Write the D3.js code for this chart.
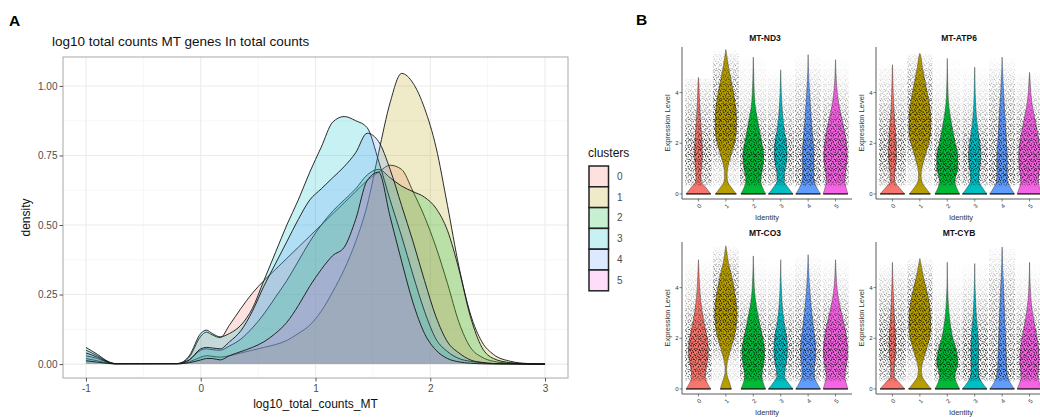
<!DOCTYPE html>
<html>
<head>
<meta charset="utf-8">
<script src="https://cdn.jsdelivr.net/npm/d3@7/dist/d3.min.js"></script>
<style>
  body { margin: 0; background: #fff; }
  svg { display: block; font-family: "Liberation Sans", Arial, Helvetica, sans-serif; }
</style>
</head>
<body>
<svg id="fig" width="1040" height="417"></svg>
<script>
// ---------- panel A: density curves ----------
const clusters = ["0", "1", "2", "3", "4", "5"];
const clusterColors = ["#F8766D", "#B79F00", "#00BA38", "#00BFC4", "#619CFF", "#F564E3"];

const densX = [-1, -0.9, -0.8, -0.75, -0.2, -0.1, 0, 0.05, 0.1, 0.17,
  0.25, 0.35, 0.45, 0.55, 0.65, 0.75, 0.85, 0.95,
  1.05, 1.15, 1.25, 1.35, 1.45, 1.55, 1.65, 1.75, 1.85, 1.95,
  2.05, 2.15, 2.25, 2.35, 2.45, 2.55, 2.7, 2.85, 3];
const dens0 = [0.05, 0.03, 0.007, 0.002, 0.002, 0.025, 0.10, 0.115, 0.105, 0.095,
  0.14, 0.20, 0.255, 0.30, 0.34, 0.38, 0.42, 0.46,
  0.50, 0.54, 0.58, 0.62, 0.66, 0.69, 0.715, 0.70, 0.62, 0.53,
  0.42, 0.29, 0.15, 0.06, 0.025, 0.01, 0.003, 0.001, 0];
const dens1 = [0.02, 0.012, 0.003, 0.001, 0.001, 0.008, 0.025, 0.03, 0.028, 0.025,
  0.03, 0.04, 0.05, 0.06, 0.07, 0.085, 0.11, 0.14,
  0.19, 0.26, 0.34, 0.44, 0.57, 0.76, 0.94, 1.045, 1.01, 0.92,
  0.78, 0.57, 0.35, 0.18, 0.08, 0.035, 0.01, 0.002, 0];
const dens2 = [0.03, 0.02, 0.005, 0.001, 0.002, 0.015, 0.05, 0.055, 0.052, 0.05,
  0.065, 0.09, 0.13, 0.18, 0.24, 0.30, 0.37, 0.44,
  0.50, 0.55, 0.59, 0.63, 0.68, 0.70, 0.67, 0.64, 0.62, 0.60,
  0.56, 0.48, 0.34, 0.17, 0.06, 0.02, 0.005, 0.001, 0];
const dens3 = [0.06, 0.035, 0.008, 0.002, 0.002, 0.03, 0.11, 0.122, 0.11, 0.098,
  0.11, 0.14, 0.20, 0.30, 0.40, 0.50, 0.59, 0.69,
  0.78, 0.87, 0.89, 0.875, 0.85, 0.73, 0.59, 0.46, 0.32, 0.19,
  0.09, 0.045, 0.02, 0.01, 0.005, 0.002, 0.001, 0, 0];
const dens4 = [0.04, 0.025, 0.006, 0.002, 0.002, 0.015, 0.055, 0.06, 0.058, 0.055,
  0.08, 0.12, 0.19, 0.28, 0.36, 0.44, 0.52, 0.59,
  0.63, 0.67, 0.71, 0.76, 0.83, 0.80, 0.70, 0.57, 0.44, 0.30,
  0.17, 0.08, 0.04, 0.015, 0.006, 0.002, 0.001, 0, 0];
const dens5 = [0.012, 0.007, 0.002, 0.001, 0.001, 0.005, 0.015, 0.02, 0.02, 0.015,
  0.03, 0.045, 0.06, 0.08, 0.11, 0.15, 0.21, 0.28,
  0.34, 0.39, 0.42, 0.52, 0.66, 0.69, 0.53, 0.37, 0.22, 0.11,
  0.05, 0.02, 0.008, 0.003, 0.001, 0, 0, 0, 0];
const densities = [dens0, dens1, dens2, dens3, dens4, dens5];

const xTicksA = [-1, 0, 1, 2, 3];
const xMinorA = [-0.5, 0.5, 1.5, 2.5];
const yTicksA = [0, 0.25, 0.5, 0.75, 1];
const yMinorA = [0.125, 0.375, 0.625, 0.875];

// ---------- panel B: violins (relative width at each level) ----------
const vlnLevels = [0, 0.25, 0.5, 0.75, 1, 1.5, 2, 2.5, 3, 3.5, 4, 4.5, 5, 5.5];
const genes = ["MT-ND3", "MT-ATP6", "MT-CO3", "MT-CYB"];

const nd3Width = [
  [1.0, 0.6, 0.22, 0.2, 0.24, 0.32, 0.3, 0.22, 0.16, 0.1, 0.06, 0.02, 0, 0],
  [0.85, 0.45, 0.14, 0.1, 0.14, 0.4, 0.7, 0.85, 0.86, 0.78, 0.62, 0.42, 0.22, 0.06],
  [1.0, 0.75, 0.6, 0.65, 0.75, 0.85, 0.7, 0.5, 0.32, 0.15, 0.08, 0.04, 0.02, 0],
  [1.0, 0.6, 0.3, 0.3, 0.38, 0.52, 0.48, 0.3, 0.18, 0.1, 0.05, 0.02, 0, 0],
  [1.0, 0.7, 0.5, 0.45, 0.46, 0.48, 0.42, 0.33, 0.25, 0.18, 0.12, 0.06, 0.02, 0],
  [1.0, 0.85, 0.75, 0.78, 0.85, 0.95, 0.88, 0.72, 0.5, 0.28, 0.14, 0.06, 0.02, 0]];
const nd3Top = [4.6, 5.7, 5.4, 4.9, 5.5, 5.3];

const atp6Width = [
  [1.0, 0.55, 0.18, 0.18, 0.24, 0.32, 0.3, 0.24, 0.17, 0.1, 0.06, 0.03, 0.01, 0],
  [0.85, 0.45, 0.15, 0.1, 0.16, 0.42, 0.72, 0.88, 0.88, 0.78, 0.6, 0.4, 0.2, 0.04],
  [1.0, 0.75, 0.62, 0.72, 0.85, 0.85, 0.65, 0.45, 0.26, 0.12, 0.06, 0.03, 0.01, 0],
  [1.0, 0.62, 0.35, 0.35, 0.42, 0.5, 0.42, 0.26, 0.15, 0.08, 0.04, 0.02, 0, 0],
  [1.0, 0.68, 0.45, 0.42, 0.42, 0.42, 0.36, 0.3, 0.24, 0.18, 0.12, 0.07, 0.02, 0],
  [1.0, 0.82, 0.7, 0.75, 0.82, 0.88, 0.8, 0.62, 0.42, 0.22, 0.1, 0.04, 0, 0]];
const atp6Top = [5.1, 5.55, 5.35, 5.0, 5.4, 4.8];

const co3Width = [
  [1.0, 0.7, 0.55, 0.6, 0.7, 0.8, 0.72, 0.5, 0.32, 0.18, 0.1, 0.05, 0.01, 0],
  [0.45, 0.3, 0.12, 0.06, 0.1, 0.35, 0.65, 0.85, 0.9, 0.82, 0.65, 0.45, 0.2, 0.05],
  [1.0, 0.8, 0.7, 0.75, 0.85, 0.92, 0.78, 0.55, 0.35, 0.18, 0.08, 0.04, 0.01, 0],
  [1.0, 0.6, 0.32, 0.35, 0.45, 0.55, 0.5, 0.32, 0.18, 0.1, 0.05, 0.02, 0, 0],
  [1.0, 0.7, 0.5, 0.5, 0.55, 0.62, 0.55, 0.42, 0.3, 0.2, 0.12, 0.06, 0.02, 0],
  [1.0, 0.85, 0.75, 0.8, 0.9, 0.98, 0.9, 0.72, 0.48, 0.26, 0.12, 0.05, 0.01, 0]];
const co3Top = [5.1, 5.65, 5.25, 5.1, 5.3, 5.1];

const cybWidth = [
  [1.0, 0.55, 0.15, 0.14, 0.18, 0.25, 0.25, 0.2, 0.14, 0.09, 0.05, 0.02, 0, 0],
  [0.92, 0.5, 0.18, 0.12, 0.2, 0.5, 0.78, 0.88, 0.85, 0.72, 0.5, 0.25, 0.06, 0],
  [1.0, 0.75, 0.62, 0.72, 0.85, 0.75, 0.45, 0.26, 0.14, 0.07, 0.03, 0.01, 0, 0],
  [1.0, 0.6, 0.35, 0.3, 0.3, 0.32, 0.28, 0.2, 0.12, 0.07, 0.03, 0.01, 0, 0],
  [1.0, 0.65, 0.45, 0.38, 0.35, 0.32, 0.28, 0.24, 0.2, 0.16, 0.12, 0.07, 0.03, 0.01],
  [1.0, 0.8, 0.68, 0.72, 0.78, 0.75, 0.62, 0.42, 0.25, 0.12, 0.06, 0.02, 0, 0]];
const cybTop = [5.0, 5.15, 5.0, 4.95, 5.6, 5.0];

const geneWidths = [nd3Width, atp6Width, co3Width, cybWidth];
const geneTops = [nd3Top, atp6Top, co3Top, cybTop];
const exprTicks = [0, 2, 4];

// dot textures used for the jittered cells (a fill, not data)
const stippleA = [[0.6, 0.7], [3.2, 1.9], [1.7, 3.8], [4.3, 4.4]];
const stippleB = [[0.4, 2.2], [2.9, 0.5], [5.6, 2.8], [2.1, 5.3], [4.8, 6.1], [6.4, 0.2]];

const svg = d3.select("#fig");
const defs = svg.append("defs");

// =============== PANEL A ===============
const xA = d3.scaleLinear().domain([-1.2, 3.2]).range([63, 568]);
const yA = d3.scaleLinear().domain([-0.05, 1.104]).range([378, 57]);

svg.append("text").attr("x", 9).attr("y", 26)
  .attr("font-size", 15.5).attr("font-weight", "bold").text("A");
svg.append("text").attr("x", 52).attr("y", 46)
  .attr("font-size", 13.5).attr("fill", "#111")
  .text("log10 total counts MT genes In total counts");

const gA = svg.append("g");
gA.append("rect").attr("x", 63).attr("y", 57).attr("width", 505).attr("height", 321)
  .attr("fill", "#fff");

gA.selectAll(".xminor").data(xMinorA).enter().append("line")
  .attr("x1", d => xA(d)).attr("x2", d => xA(d)).attr("y1", 57).attr("y2", 378)
  .attr("stroke", "#f4f4f4").attr("stroke-width", 0.7);
gA.selectAll(".yminor").data(yMinorA).enter().append("line")
  .attr("y1", d => yA(d)).attr("y2", d => yA(d)).attr("x1", 63).attr("x2", 568)
  .attr("stroke", "#f4f4f4").attr("stroke-width", 0.7);
gA.selectAll(".xmajor").data(xTicksA).enter().append("line")
  .attr("x1", d => xA(d)).attr("x2", d => xA(d)).attr("y1", 57).attr("y2", 378)
  .attr("stroke", "#ebebeb").attr("stroke-width", 1.1);
gA.selectAll(".ymajor").data(yTicksA).enter().append("line")
  .attr("y1", d => yA(d)).attr("y2", d => yA(d)).attr("x1", 63).attr("x2", 568)
  .attr("stroke", "#ebebeb").attr("stroke-width", 1.1);

const areaA = d3.area()
  .x(d => xA(d[0])).y0(yA(0)).y1(d => yA(d[1]))
  .curve(d3.curveMonotoneX);
const lineA = d3.line()
  .x(d => xA(d[0])).y(d => yA(d[1]))
  .curve(d3.curveMonotoneX);

densities.forEach(function(dens, i) {
  let pts = densX.map((x, j) => [x, dens[j]]);
  gA.append("path").attr("d", areaA(pts))
    .attr("fill", clusterColors[i]).attr("fill-opacity", 0.22);
  gA.append("path").attr("d", lineA(pts))
    .attr("fill", "none").attr("stroke", "#151515").attr("stroke-width", 0.9);
});

gA.append("rect").attr("x", 63).attr("y", 57).attr("width", 505).attr("height", 321)
  .attr("fill", "none").attr("stroke", "#a8a8a8").attr("stroke-width", 1);

const axA = svg.append("g").attr("transform", "translate(63,0)")
  .call(d3.axisLeft(yA).tickValues(yTicksA).tickFormat(d3.format(".2f")).tickSize(3.5).tickPadding(2));
const axB = svg.append("g").attr("transform", "translate(0,378)")
  .call(d3.axisBottom(xA).tickValues(xTicksA).tickFormat(d3.format("d")).tickSize(3.5).tickPadding(3));
[axA, axB].forEach(function(ax) {
  ax.select(".domain").remove();
  ax.selectAll("line").attr("stroke", "#555");
  ax.selectAll("text").attr("fill", "#4d4d4d").attr("font-size", 10)
    .attr("font-family", "Liberation Sans, Arial, sans-serif");
});
axB.selectAll("text").text(d => d < 0 ? "-" + Math.abs(d) : d);

svg.append("text").attr("x", 315.5).attr("y", 408).attr("text-anchor", "middle")
  .attr("font-size", 12).attr("fill", "#111").text("log10_total_counts_MT");
svg.append("text").attr("transform", "translate(30,217.5) rotate(-90)")
  .attr("text-anchor", "middle").attr("font-size", 12).attr("fill", "#111").text("density");

// legend
svg.append("text").attr("x", 588).attr("y", 157).attr("font-size", 12)
  .attr("fill", "#111").text("clusters");
const leg = svg.selectAll(".leg").data(clusters).enter().append("g")
  .attr("transform", (d, i) => "translate(589," + (166 + i * 20.8) + ")");
leg.append("rect").attr("width", 19.5).attr("height", 20.8)
  .attr("fill", "#fff");
leg.append("rect").attr("width", 19.5).attr("height", 20.8)
  .attr("fill", (d, i) => clusterColors[i]).attr("fill-opacity", 0.22)
  .attr("stroke", "#222").attr("stroke-width", 1.5);
leg.append("text").attr("x", 28).attr("y", 10.4).attr("dy", "0.35em")
  .attr("font-size", 10).attr("fill", "#4d4d4d").text(d => d);

// =============== PANEL B ===============
svg.append("text").attr("x", 636).attr("y", 25)
  .attr("font-size", 15.5).attr("font-weight", "bold").text("B");

function makePattern(id, size, dots) {
  let p = defs.append("pattern").attr("id", id)
    .attr("patternUnits", "userSpaceOnUse").attr("width", size).attr("height", size);
  p.selectAll("circle").data(dots).enter().append("circle")
    .attr("cx", d => d[0]).attr("cy", d => d[1]).attr("r", 0.6).attr("fill", "#000");
}
makePattern("jitA", 5, stippleA);
makePattern("jitB", 7, stippleB);

const facetPos = [[682, 0], [876, 0], [682, 195], [876, 195]];

genes.forEach(function(gene, g) {
  let ax = facetPos[g][0], dy = facetPos[g][1];
  let yV = d3.scaleLinear().domain([-0.2, 5.8]).range([199 + dy, 47 + dy]);
  let xV = d3.scalePoint().domain(clusters).range([ax, ax + 170]).padding(0.6);
  let hw = 0.45 * xV.step();
  let fg = svg.append("g");

  clusters.forEach(function(c, i) {
    let w = geneWidths[g][i], top = geneTops[g][i], cx = xV(c);
    let prof = vlnLevels.map((l, k) => [l, w[k]]).filter(d => d[0] < top);
    prof.push([top, 0]);
    prof.reverse();

    let area = d3.area()
      .y(d => yV(d[0]))
      .x0(d => cx - d[1] * hw).x1(d => cx + d[1] * hw)
      .curve(d3.curveMonotoneY);
    fg.append("path").attr("d", area(prof))
      .attr("fill", clusterColors[i]).attr("stroke", "#3a3a3a").attr("stroke-width", 0.45);

    // jittered cells: dot texture faded by the violin's own density
    let bodyMax = d3.max(vlnLevels.map((l, k) => l >= 0.75 ? w[k] : 0));
    let grad = defs.append("linearGradient").attr("id", "fade" + g + i)
      .attr("gradientUnits", "userSpaceOnUse")
      .attr("x1", 0).attr("x2", 0).attr("y1", yV(0)).attr("y2", yV(top));
    vlnLevels.forEach(function(l, k) {
      if (l >= top) return;
      let op = l < 0.3 ? 0 : Math.pow(Math.min(1, w[k] / bodyMax), 0.75);
      grad.append("stop").attr("offset", l / top)
        .attr("stop-color", "#fff").attr("stop-opacity", op);
    });
    grad.append("stop").attr("offset", 1).attr("stop-color", "#fff").attr("stop-opacity", 0.02);
    let mask = defs.append("mask").attr("id", "mask" + g + i);
    mask.append("rect").attr("x", cx - hw - 1).attr("y", yV(top)).attr("width", 2 * hw + 2)
      .attr("height", yV(0) - yV(top)).attr("fill", "url(#fade" + g + i + ")");
    ["jitA", "jitB"].forEach(function(pid) {
      fg.append("rect").attr("x", cx - hw - 1).attr("y", yV(top)).attr("width", 2 * hw + 2)
        .attr("height", yV(0) - yV(top)).attr("fill", "url(#" + pid + ")")
        .attr("opacity", 0.85)
        .attr("mask", "url(#mask" + g + i + ")");
    });

    // cells with zero expression pile up on the baseline
    fg.append("line").attr("x1", cx - w[0] * hw).attr("x2", cx + w[0] * hw)
      .attr("y1", yV(0)).attr("y2", yV(0)).attr("stroke", "#111").attr("stroke-width", 1.1);
  });

  // axes
  fg.append("line").attr("x1", ax).attr("x2", ax).attr("y1", 47 + dy).attr("y2", 199 + dy)
    .attr("stroke", "#333").attr("stroke-width", 0.8);
  fg.append("line").attr("x1", ax).attr("x2", ax + 170).attr("y1", 199 + dy).attr("y2", 199 + dy)
    .attr("stroke", "#333").attr("stroke-width", 0.8);
  exprTicks.forEach(function(t) {
    fg.append("line").attr("x1", ax - 2.5).attr("x2", ax).attr("y1", yV(t)).attr("y2", yV(t))
      .attr("stroke", "#333").attr("stroke-width", 0.6);
    fg.append("text").attr("x", ax - 3.5).attr("y", yV(t)).attr("dy", "0.35em")
      .attr("text-anchor", "end").attr("font-size", 6).attr("fill", "#333").text(t);
  });
  clusters.forEach(function(c) {
    fg.append("line").attr("x1", xV(c)).attr("x2", xV(c)).attr("y1", 199 + dy).attr("y2", 201.5 + dy)
      .attr("stroke", "#333").attr("stroke-width", 0.6);
    fg.append("text").attr("transform", "translate(" + (xV(c) + 2) + "," + (205 + dy) + ") rotate(-45)")
      .attr("text-anchor", "end").attr("dy", "0.35em").attr("font-size", 6).attr("fill", "#333").text(c);
  });
  fg.append("text").attr("x", ax + 85).attr("y", 220 + dy).attr("text-anchor", "middle")
    .attr("font-size", 7.5).attr("fill", "#333").text("Identity");
  fg.append("text").attr("transform", "translate(" + (ax - 12) + "," + (123 + dy) + ") rotate(-90)")
    .attr("text-anchor", "middle").attr("font-size", 7.5).attr("fill", "#333").text("Expression Level");
  fg.append("text").attr("x", ax + 83).attr("y", 41 + dy).attr("text-anchor", "middle")
    .attr("font-size", 8.5).attr("font-weight", "bold").attr("fill", "#111").text(gene);
});
</script>
</body>
</html>
